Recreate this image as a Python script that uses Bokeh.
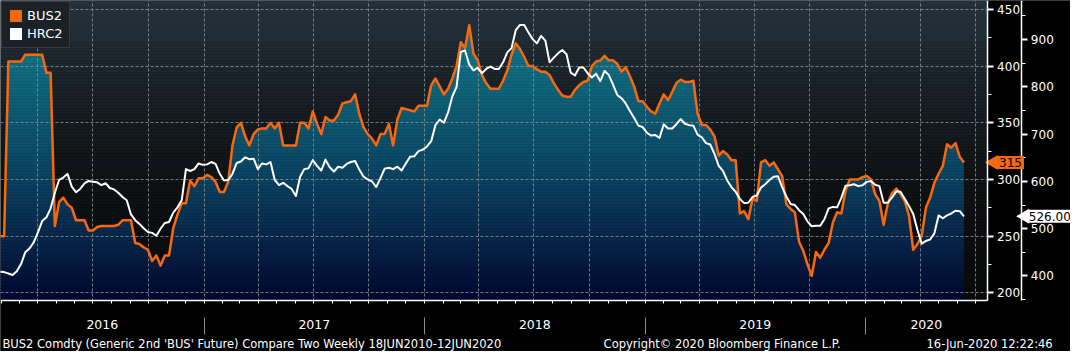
import numpy as np
import pandas as pd
from bokeh.plotting import figure
from bokeh.models import (Range1d, LinearAxis, FixedTicker, SingleIntervalTicker,
                          Legend, LegendItem, Label, Grid)
from bokeh.embed import file_html
from bokeh.resources import INLINE

# ---------------- data (weekly, Fridays) ----------------
first_date = "2016-01-29"
bus2 = [250, 250, 404, 404, 404, 404, 410, 410, 410, 410,
        410, 394, 394, 259, 280, 284, 278, 275, 264, 264,
        264, 255, 255, 258, 259, 259, 259, 259, 260, 264,
        264, 264, 244, 243, 240, 238, 228, 233, 224, 233,
        233, 257, 269, 279, 279, 299, 294, 301, 301, 304,
        302, 298, 289, 289, 298, 330, 346, 350, 338, 330,
        340, 344, 345, 345, 350, 345, 350, 330, 330, 330,
        330, 350, 350, 345, 360, 349, 340, 355, 352, 352,
        357, 367, 368, 369, 375, 358, 346, 340, 336, 330,
        340, 340, 349, 330, 353, 363, 362, 361, 360, 365,
        365, 365, 383, 389, 382, 375, 380, 389, 400, 421,
        416, 436, 411, 405, 392, 385, 380, 380, 380, 387,
        396, 410, 420, 415, 408, 400, 400, 397, 395, 395,
        392, 385, 379, 374, 373, 373, 379, 383, 386, 387,
        400, 404, 405, 409, 405, 405, 402, 395, 399, 391,
        382, 369, 369, 364, 360, 358, 367, 375, 370, 377,
        385, 388, 386, 386, 387, 358, 348, 348, 344, 338,
        321, 325, 322, 317, 317, 270, 272, 265, 283, 281,
        315, 317, 312, 315, 309, 303, 278, 274, 271, 245,
        237, 225, 215, 236, 231, 238, 244, 262, 271, 270,
        290, 300, 300, 300, 302, 303, 300, 287, 281, 260,
        279, 288, 292, 287, 281, 268, 238, 243, 250, 275,
        284, 297, 305, 312, 331, 328, 332, 320, 315]
hrc2 = [409, 408, 405, 402, 410, 425, 450, 458, 471, 492,
        516, 524, 543, 576, 603, 608, 616, 589, 577, 584,
        596, 601, 599, 598, 592, 596, 586, 583, 576, 567,
        560, 530, 518, 510, 501, 493, 491, 485, 500, 512,
        514, 534, 545, 560, 626, 622, 626, 638, 635, 636,
        641, 637, 616, 602, 603, 616, 639, 642, 651, 647,
        648, 626, 638, 636, 641, 603, 592, 597, 590, 584,
        569, 610, 626, 628, 645, 633, 623, 646, 630, 621,
        631, 629, 637, 641, 643, 625, 610, 604, 600, 588,
        607, 627, 629, 626, 631, 623, 638, 652, 653, 664,
        667, 674, 685, 719, 731, 724, 746, 780, 800, 874,
        877, 847, 835, 840, 829, 838, 843, 838, 838, 852,
        873, 882, 920, 931, 931, 915, 901, 892, 908, 898,
        852, 862, 871, 878, 869, 830, 824, 841, 841, 829,
        820, 828, 812, 834, 825, 805, 783, 776, 765, 749,
        734, 718, 715, 703, 697, 698, 692, 721, 712, 712,
        721, 732, 722, 719, 718, 699, 693, 681, 678, 658,
        633, 622, 602, 588, 578, 563, 554, 555, 567, 570,
        587, 594, 603, 610, 611, 588, 568, 552, 550, 539,
        531, 515, 505, 506, 506, 520, 543, 546, 545, 565,
        591, 592, 594, 590, 592, 599, 601, 593, 590, 555,
        555, 566, 579, 578, 563, 548, 531, 497, 468, 474,
        477, 490, 528, 522, 528, 532, 538, 537, 526]
series_names = ["BUS2", "HRC2"]
year_labels = ["2016", "2017", "2018", "2019", "2020"]
footer_left = "BUS2 Comdty (Generic 2nd 'BUS' Future) Compare Two  Weekly 18JUN2010-12JUN2020"
footer_mid = "Copyright\u00a9 2020 Bloomberg Finance L.P."
footer_right = "16-Jun-2020 12:22:46"

# ---------------- geometry ----------------
ORANGE = "#f7690c"
FONT = "DejaVu Sans"
W, H = 1070, 351                    # canvas (fits the window inside the 8px page margin)
SX, SY = W / 1078.0, H / 359.0      # reference-layout -> canvas scale
PW, PH = 994 * SX, 307 * SY         # plotting area size in canvas px


def ms(s):
    return float(pd.Timestamp(s).value // 10**6)


dates = pd.date_range(first_date, periods=len(bus2), freq="7D")
xs = np.array([ms(d) for d in dates])
bus = np.array(bus2, dtype=float)
hrc = np.array(hrc2, dtype=float)

# data extents of the plotting area
X0, X1 = ms("2016-01-30"), ms("2020-07-20 08:00")
Y0, Y1 = 193.1, 457.8
H0, H1 = 347.6, 982.8

ms_per_px = (X1 - X0) / PW
v_per_px = (Y1 - Y0) / PH
h_per_px = (H1 - H0) / PH
XR = X0 + W * ms_per_px
YB = Y1 - H * v_per_px
HB = H1 - H * h_per_px


def xr(px):   # reference px -> x data
    return X0 + px * SX * ms_per_px


def yr(py):   # reference px -> BUS2 data
    return Y1 - py * SY * v_per_px


p = figure(width=W, height=H, x_range=Range1d(X0, XR), y_range=Range1d(YB, Y1),
           x_axis_type=None, y_axis_type=None, output_backend="svg",
           toolbar_location=None, min_border=0, min_border_left=0, min_border_top=0,
           min_border_right=0, min_border_bottom=0,
           background_fill_color="#000000", border_fill_color="#000000",
           outline_line_color=None)
p.extra_y_ranges = {"hrc": Range1d(HB, H1)}


def interp_rgb(ypx_ref, stops_y, stops_rgb):
    arr = np.array(stops_rgb, dtype=float)
    r = np.interp(ypx_ref, stops_y, arr[:, 0])
    g = np.interp(ypx_ref, stops_y, arr[:, 1])
    b = np.interp(ypx_ref, stops_y, arr[:, 2])
    return "#%02x%02x%02x" % (int(round(r)), int(round(g)), int(round(b)))


NB = 100
edges = np.linspace(0, PH, NB + 1)   # canvas px
eps = 0.35
bg_y = [0, 60, 120, 200, 307]
bg_rgb = [(36, 49, 60), (30, 40, 48), (22, 28, 33), (14, 16, 18), (8, 9, 10)]
fl_y = [0, 67, 180, 240, 307]
fl_rgb = [(22, 124, 144), (15, 108, 128), (10, 68, 98), (7, 40, 75), (2, 6, 46)]


def v_of_canvas(py):
    return Y1 - py * v_per_px


# background gradient of the plotting area
bottoms, tops, cols = [], [], []
for k in range(NB):
    hi = v_of_canvas(edges[k]) + eps
    lo = v_of_canvas(edges[k + 1])
    if k == NB - 1:
        lo = Y0
    bottoms.append(lo)
    tops.append(min(hi, Y1 + 3))
    cols.append(interp_rgb(0.5 * (edges[k] + edges[k + 1]) / SY, bg_y, bg_rgb))
p.quad(left=X0, right=X1, bottom=bottoms, top=tops, fill_color=cols,
       line_color=None, level="image")


def band_poly(xv, yv, lo, hi):
    px, py = [xv[0]], [yv[0]]
    for i in range(len(xv) - 1):
        x0, x1, y0, y1 = xv[i], xv[i + 1], yv[i], yv[i + 1]
        cr = []
        for L in (lo, hi):
            if (y0 - L) * (y1 - L) < 0:
                t = (L - y0) / (y1 - y0)
                cr.append((x0 + t * (x1 - x0), L))
        cr.sort()
        for cx, cy in cr:
            px.append(cx)
            py.append(cy)
        px.append(x1)
        py.append(y1)
    return np.array(px), np.clip(np.array(py), lo, hi)


# gradient area under BUS2
for k in range(NB):
    hi = v_of_canvas(edges[k]) + eps
    lo = v_of_canvas(edges[k + 1])
    if k == NB - 1:
        lo = Y0
    if bus.max() <= lo:
        continue
    bx, by = band_poly(xs, bus, lo, hi)
    c = interp_rgb(0.5 * (edges[k] + edges[k + 1]) / SY, fl_y, fl_rgb)
    p.varea(x=bx, y1=lo, y2=by, fill_color=c, level="image")

# grids
b17, b18, b19, b20 = ms("2017-01-01"), ms("2018-01-01"), ms("2019-01-01"), ms("2020-01-01")
quarters = [ms(d) for d in pd.date_range("2016-04-01", "2020-07-01", freq="QS")]
GRID = "#8d9399"
xgrid = Grid(dimension=0, ticker=FixedTicker(ticks=quarters), grid_line_color=GRID,
             grid_line_dash="3 2", grid_line_alpha=0.8, level="underlay")
ygrid = Grid(dimension=1, ticker=SingleIntervalTicker(interval=50), grid_line_color=GRID,
             grid_line_dash="3 2", grid_line_alpha=0.8, level="underlay")
p.add_layout(xgrid)
p.add_layout(ygrid)

# lines
p.line(xs, bus, line_color=ORANGE, line_width=2.5, line_join="round")
p.line(xs, hrc, y_range_name="hrc", line_color="white", line_width=2, line_join="round")

# black covers outside the plotting area (hide grid overflow)
big = 1e12
p.quad(left=[X1, X0 - big], right=[XR + big, XR + big], bottom=[YB - 1e4, YB - 1e4],
       top=[Y1 + 1e4, Y0], fill_color="#000000", line_color=None, level="glyph")


def style_right(ax):
    ax.axis_line_color = "white"
    ax.axis_line_width = 1.5
    ax.major_tick_line_color = "white"
    ax.major_tick_line_width = 2
    ax.major_tick_in = 0
    ax.major_tick_out = 6
    ax.minor_tick_line_color = "white"
    ax.minor_tick_in = 0
    ax.minor_tick_out = 4
    ax.major_label_text_color = "white"
    ax.major_label_text_font = FONT
    ax.major_label_text_font_size = "12px"


ax_b = LinearAxis(ticker=SingleIntervalTicker(interval=50, num_minor_ticks=2),
                  fixed_location=X1, bounds=(Y0, Y1))
style_right(ax_b)
ax_b.major_label_standoff = 4
p.add_layout(ax_b, "right")
ax_h = LinearAxis(y_range_name="hrc", ticker=SingleIntervalTicker(interval=100, num_minor_ticks=2),
                  fixed_location=xr(1029), bounds=(H0, H1))
style_right(ax_h)
ax_h.major_label_standoff = 3
p.add_layout(ax_h, "right")

# bottom axis: year labels + monthly ticks
centers = [round((X0 + b17) / 2), round((b17 + b18) / 2), round((b18 + b19) / 2),
           round((b19 + b20) / 2), round((b20 + X1) / 2)]
centers = [float(c) for c in centers]
months = [ms(d) for d in pd.date_range("2016-02-01", "2020-07-01", freq="MS")]
ax_x = LinearAxis(ticker=FixedTicker(ticks=centers, minor_ticks=months),
                  major_label_overrides={c: t for c, t in zip(centers, year_labels)},
                  fixed_location=Y0, bounds=(X0, X1))
ax_x.axis_line_color = "white"
ax_x.axis_line_width = 1.5
ax_x.major_tick_line_color = None
ax_x.major_tick_in = 0
ax_x.major_tick_out = 0
ax_x.minor_tick_line_color = "white"
ax_x.minor_tick_in = 0
ax_x.minor_tick_out = 3
ax_x.major_label_text_color = "white"
ax_x.major_label_text_font = FONT
ax_x.major_label_text_font_size = "12.5px"
ax_x.major_label_standoff = 16
p.add_layout(ax_x, "below")

bounds_years = [b17, b18, b19, b20]
ax_s = LinearAxis(ticker=FixedTicker(ticks=bounds_years),
                  major_label_overrides={b: "" for b in bounds_years},
                  fixed_location=yr(324), bounds=(X0, X1))
ax_s.axis_line_color = None
ax_s.major_tick_line_color = "#8a8a8a"
ax_s.major_tick_line_width = 1
ax_s.major_tick_in = 0
ax_s.major_tick_out = 17
ax_s.minor_tick_line_color = None
ax_s.major_label_text_font_size = "1px"
ax_s.major_label_text_alpha = 0
p.add_layout(ax_s, "below")

# legend (square swatches; swatch renderers hold one point outside the view)
r_lo = p.quad(left=[X0 - 2e10], right=[X0 - 1e10], top=[300], bottom=[250],
              fill_color=ORANGE, line_color=None)
r_lw = p.quad(left=[X0 - 2e10], right=[X0 - 1e10], top=[300], bottom=[250],
              fill_color="white", line_color=None)
legend = Legend(items=[LegendItem(label=series_names[0], renderers=[r_lo]),
                       LegendItem(label=series_names[1], renderers=[r_lw])],
                location="top_left")
legend.background_fill_color = "#1a2127"
legend.background_fill_alpha = 1
legend.border_line_color = "#50565b"
legend.border_line_width = 1
legend.label_text_color = "white"
legend.label_text_font = FONT
legend.label_text_font_size = "13px"
legend.glyph_width = 15
legend.glyph_height = 15
legend.padding = 6
legend.spacing = 3
legend.margin = 1
legend.label_standoff = 4
p.add_layout(legend)

# last-value tags (arrow head + boxed value)
bus_last = bus[-1]
hrc_last = hrc[-1]
p.scatter(x=[xr(1000.5)], y=[bus_last], marker="triangle", angle=np.pi / 2, size=15,
          fill_color=ORANGE, line_color=None)
p.scatter(x=[xr(1032)], y=[hrc_last], y_range_name="hrc", marker="triangle",
          angle=np.pi / 2, size=15, fill_color="white", line_color=None)
p.add_layout(Label(x=xr(1004), y=bus_last, text=f"{bus_last:.0f}",
                   text_color="black", text_font=FONT, text_font_size="12px",
                   text_baseline="middle", text_align="left",
                   background_fill_color=ORANGE, padding=2))
hrc_last_in_bus = Y1 - (H1 - hrc_last) / h_per_px * v_per_px
p.add_layout(Label(x=xr(1034), y=hrc_last_in_bus, text=f"{hrc_last:.2f}",
                   text_color="black", text_font=FONT, text_font_size="12px",
                   text_baseline="middle", text_align="left",
                   background_fill_color="white", padding=2))

# footer
p.add_layout(Label(x=xr(2), y=yr(351), text=footer_left, text_color="white",
                   text_font=FONT, text_font_size="11.5px", text_baseline="middle",
                   text_align="left"))
p.add_layout(Label(x=xr(727), y=yr(351), text=footer_mid, text_color="white",
                   text_font=FONT, text_font_size="11.5px", text_baseline="middle",
                   text_align="center"))
p.add_layout(Label(x=xr(1060), y=yr(351), text=footer_right, text_color="white",
                   text_font=FONT, text_font_size="11.5px", text_baseline="middle",
                   text_align="right"))

open("out.html", "w").write(file_html(p, INLINE))
